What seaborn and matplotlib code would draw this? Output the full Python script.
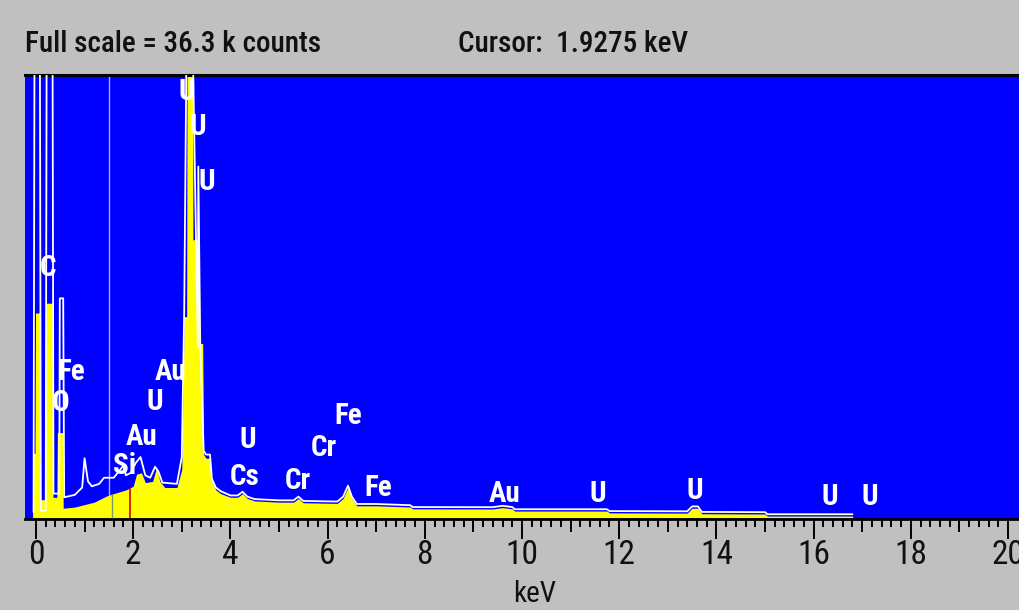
import numpy as np
import pandas as pd
import matplotlib
matplotlib.use("Agg")
import matplotlib.pyplot as plt
import seaborn as sns
from matplotlib import font_manager

# ---------------- data ----------------
# yellow spectrum: energy (keV) and counts (k counts)
yellow_kev = [-0.07, -0.07, -0.02, -0.01, 0.08, 0.09, 0.19, 0.20, 0.34, 0.35, 0.43, 0.44,
              0.55, 0.56, 0.80, 1.00, 1.20, 1.45, 1.60, 1.85, 2.00, 2.07, 2.17, 2.25,
              2.40, 2.48, 2.55, 2.65, 2.90, 3.00, 3.05, 3.10, 3.11, 3.22, 3.23, 3.36,
              3.37, 3.43, 3.45, 3.50, 3.58, 3.62, 3.70, 3.80, 4.00, 4.15, 4.25, 4.35,
              4.50, 5.00, 5.30, 5.40, 5.50, 6.20, 6.32, 6.42, 6.50, 6.60, 7.00, 7.70,
              7.75, 9.40, 9.60, 9.80, 9.85, 11.75, 11.80, 13.40, 13.50, 13.62, 13.70,
              15.00, 15.05, 16.80, 16.81, 20.20]
yellow_counts = [0.0, 5.3, 5.3, 16.8, 16.8, 1.5, 1.5, 17.6, 17.6, 1.7, 1.7, 7.0,
                 7.0, 0.8, 0.9, 1.1, 1.3, 1.8, 2.0, 2.3, 2.6, 3.6, 3.7, 2.9,
                 3.0, 4.1, 3.0, 2.5, 2.5, 4.0, 16.5, 16.5, 40.0, 40.0, 22.8, 22.8,
                 14.3, 14.3, 5.2, 4.9, 4.9, 3.0, 2.3, 2.0, 1.7, 1.7, 2.0, 1.6,
                 1.4, 1.3, 1.3, 1.6, 1.25, 1.2, 1.6, 2.5, 1.6, 1.0, 1.0, 0.9,
                 0.75, 0.74, 0.85, 0.75, 0.57, 0.57, 0.42, 0.40, 0.80, 0.80, 0.35,
                 0.33, 0.16, 0.16, 0.0, 0.0]

# white overlay spectrum
white_kev = [-0.05, -0.03, 0.08, 0.10, 0.20, 0.22, 0.34, 0.36, 0.48, 0.49, 0.56, 0.58,
             0.80, 0.95, 1.00, 1.07, 1.15, 1.30, 1.40, 1.60, 1.70, 1.80, 1.85, 1.95,
             2.05, 2.15, 2.25, 2.35, 2.45, 2.52, 2.60, 2.90, 3.00, 3.05, 3.10, 3.22,
             3.33, 3.34, 3.38, 3.45, 3.50, 3.58, 3.62, 3.70, 3.80, 4.00, 4.15, 4.25,
             4.35, 4.50, 5.00, 5.30, 5.40, 5.50, 6.20, 6.32, 6.42, 6.50, 6.60, 7.00,
             7.70, 7.75, 9.40, 9.60, 9.80, 9.85, 11.75, 11.80, 13.40, 13.50, 13.62,
             13.70, 15.00, 15.05, 16.80]
white_counts = [0.5, 40.0, 40.0, 0.6, 0.6, 40.0, 40.0, 2.0, 2.0, 18.0, 18.0, 1.7,
                1.9, 2.5, 4.9, 3.0, 2.6, 2.8, 3.3, 3.3, 3.8, 4.3, 3.5, 3.7,
                4.5, 5.0, 3.5, 3.3, 4.2, 3.8, 2.9, 2.8, 5.0, 17.0, 40.0, 40.0,
                14.0, 28.8, 14.0, 5.5, 5.2, 5.2, 3.2, 2.5, 2.2, 1.85, 1.85, 2.15,
                1.75, 1.55, 1.45, 1.45, 1.75, 1.4, 1.35, 1.75, 2.65, 1.75, 1.15, 1.15,
                1.05, 0.9, 0.89, 1.0, 0.9, 0.72, 0.72, 0.57, 0.55, 0.95, 0.95, 0.5,
                0.48, 0.31, 0.31]

# element labels: text, energy (keV), height (k counts)
label_text = ["U", "U", "U", "C", "Fe", "O", "Au", "U", "Au", "Si", "U", "Cs",
              "Cr", "Fe", "Cr", "Fe", "Au", "U", "U", "U", "U"]
label_kev = [3.11, 3.33, 3.52, 0.25, 0.72, 0.51, 2.76, 2.45, 2.18, 1.83, 4.36, 4.30,
             5.93, 6.42, 5.39, 7.04, 9.65, 11.56, 13.56, 16.34, 17.16]
label_counts = [34.9, 32.0, 27.5, 20.5, 12.0, 9.4, 12.0, 9.5, 6.6, 4.3, 6.4, 3.4,
                5.7, 8.4, 3.0, 2.5, 2.0, 2.0, 2.2, 1.7, 1.7]

# marker lines
roi_line_kev = [1.51]
green_line_kev = [1.57]
green_line_top = [2.0]
cursor_kev = [1.9275]
cursor_top = [2.45]

full_scale = 36.3
tick_major = list(range(0, 21, 2))
tick_mid = list(range(1, 20, 2))

header_left = "Full scale = 36.3 k counts"
header_right = "Cursor:  1.9275 keV"
x_label = "keV"

# ---------------- style ----------------
sns.set_style("white")
names = {f.name for f in font_manager.fontManager.ttflist}
cands = ["Roboto Condensed", "DejaVu Sans Condensed", "Liberation Sans Narrow",
         "Open Sans Condensed", "Roboto"]
narrow = next((c for c in cands if c in names), "DejaVu Sans")
plt.rcParams["font.family"] = [narrow, "DejaVu Sans"]
plt.rcParams["font.stretch"] = "condensed"

GRAY = "#c0c0c0"
BLUE = "#0000ff"
YELLOW = "#ffff00"

W, H = 1019, 610
fig = plt.figure(figsize=(W / 100, H / 100), dpi=100, facecolor=GRAY)
L, R, T, B = 25, 1019, 75, 519
ax = fig.add_axes([L / W, (H - B) / H, (R - L) / W, (B - T) / H])
ax.set_facecolor(BLUE)

ax.set_xlim(-0.226, 20.226)
ax.set_ylim(-0.08, full_scale)

ydf = pd.DataFrame({"keV": yellow_kev, "counts": yellow_counts})
wdf = pd.DataFrame({"keV": white_kev, "counts": white_counts})

ax.fill_between(ydf["keV"], 0, ydf["counts"], color=YELLOW, linewidth=0, zorder=2)
sns.lineplot(data=wdf, x="keV", y="counts", ax=ax, color="white", linewidth=1.3,
             sort=False, estimator=None, zorder=3)

for e in roi_line_kev:
    ax.axvline(e, color="#9db4ff", linewidth=1.0, zorder=1.5)
for e, t in zip(green_line_kev, green_line_top):
    ax.vlines(e, 0, t, color="#6f9f6f", linewidth=1.0, zorder=4)
for e, t in zip(cursor_kev, cursor_top):
    ax.vlines(e, 0, t, color="#d00000", linewidth=1.2, zorder=4)

for s, e, c in zip(label_text, label_kev, label_counts):
    ax.text(e, c, s, color="white", fontsize=21, fontweight="bold",
            ha="center", va="center", zorder=5)

# axes cosmetics
ax.set_xlabel("")
ax.set_ylabel("")
ax.set_yticks([])
for side in ["left", "right"]:
    ax.spines[side].set_visible(False)
ax.spines["top"].set_linewidth(2.2)
ax.spines["top"].set_color("black")
ax.spines["bottom"].set_linewidth(2.0)
ax.spines["bottom"].set_color("black")

ax.set_xticks(tick_major)
ax.set_xticklabels([str(t) for t in tick_major])
ax.set_xticks(np.arange(0, 20.01, 0.2), minor=True)
ax.tick_params(axis="x", which="major", direction="out", length=14.5, width=1.4,
               color="black", labelsize=24, labelcolor="#111111", pad=0, bottom=True)
ax.tick_params(axis="x", which="minor", direction="out", length=5.8, width=1.4,
               color="black", bottom=True)

sec = ax.secondary_xaxis("bottom")
sec.set_xticks(tick_mid)
sec.set_xticklabels([""] * len(tick_mid))
sec.tick_params(axis="x", direction="out", length=9.5, width=1.4, color="black")
sec.spines["bottom"].set_visible(False)

fig.text(535 / W, 1 - 594 / H, x_label, ha="center", va="center", fontsize=21,
         color="#111111")
fig.text(25 / W, 1 - 44 / H, header_left, ha="left", va="center", fontsize=21,
         color="#111111", fontweight="medium")
fig.text(458 / W, 1 - 44 / H, header_right, ha="left", va="center", fontsize=21,
         color="#111111", fontweight="medium")

fig.savefig("out.png", dpi=100, facecolor=GRAY)
